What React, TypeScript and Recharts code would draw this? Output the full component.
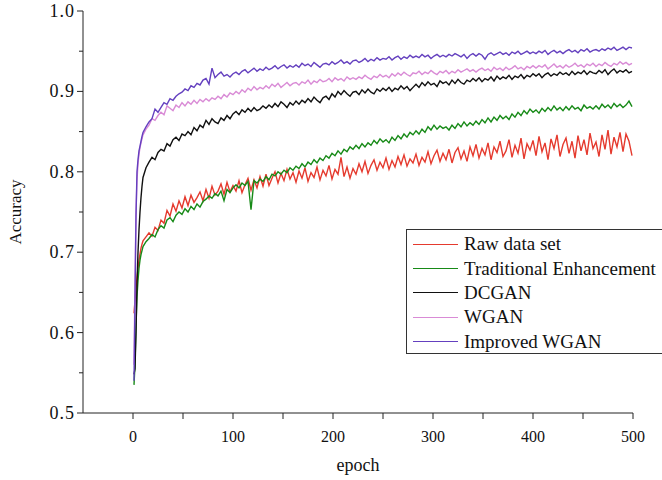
import { LineChart, Line, XAxis, YAxis, Legend } from "recharts"

const FONT = '"Liberation Serif", "Times New Roman", serif'

// epoch positions of the sampled points
const epochs = [
  1, 2, 3, 4, 5, 6, 7, 8, 9, 10,
  13, 16, 19, 22, 25, 28, 31, 34, 37, 40,
  43, 46, 49, 52, 55, 58, 61, 64, 67, 70,
  73, 76, 79, 82, 85, 88, 91, 94, 97, 100,
  103, 106, 109, 112, 115, 118, 121, 124, 127, 130,
  133, 136, 139, 142, 145, 148, 151, 154, 157, 160,
  163, 166, 169, 172, 175, 178, 181, 184, 187, 190,
  193, 196, 199, 202, 205, 208, 211, 214, 217, 220,
  223, 226, 229, 232, 235, 238, 241, 244, 247, 250,
  253, 256, 259, 262, 265, 268, 271, 274, 277, 280,
  283, 286, 289, 292, 295, 298, 301, 304, 307, 310,
  313, 316, 319, 322, 325, 328, 331, 334, 337, 340,
  343, 346, 349, 352, 355, 358, 361, 364, 367, 370,
  373, 376, 379, 382, 385, 388, 391, 394, 397, 400,
  403, 406, 409, 412, 415, 418, 421, 424, 427, 430,
  433, 436, 439, 442, 445, 448, 451, 454, 457, 460,
  463, 466, 469, 472, 475, 478, 481, 484, 487, 490,
  493, 496, 499,
]

const rawData = [
  0.624, 0.640, 0.655, 0.668, 0.680, 0.690, 0.698, 0.705, 0.710, 0.714,
  0.719, 0.724, 0.720, 0.731, 0.727, 0.740, 0.736, 0.752, 0.745, 0.760,
  0.751, 0.764, 0.755, 0.769, 0.758, 0.771, 0.762, 0.768, 0.775, 0.764,
  0.778, 0.767, 0.782, 0.771, 0.776, 0.785, 0.772, 0.787, 0.775, 0.783,
  0.776, 0.789, 0.774, 0.784, 0.792, 0.777, 0.790, 0.780, 0.794, 0.782,
  0.797, 0.783, 0.792, 0.800, 0.786, 0.798, 0.789, 0.803, 0.791, 0.799,
  0.787, 0.801, 0.792, 0.805, 0.788, 0.799, 0.793, 0.806, 0.790, 0.802,
  0.795, 0.808, 0.791, 0.803, 0.797, 0.818, 0.794, 0.806, 0.792, 0.804,
  0.797, 0.810, 0.800, 0.813, 0.798, 0.808, 0.815, 0.802, 0.812, 0.805,
  0.817, 0.803, 0.814, 0.806, 0.819, 0.809, 0.821, 0.807, 0.816, 0.811,
  0.822, 0.808, 0.818, 0.812, 0.825, 0.810, 0.820, 0.827, 0.813, 0.823,
  0.815, 0.828, 0.811, 0.824, 0.830, 0.816, 0.826, 0.813, 0.831, 0.820,
  0.834, 0.817, 0.829, 0.821, 0.836, 0.815, 0.831, 0.824, 0.838, 0.819,
  0.826, 0.840, 0.818, 0.833, 0.823, 0.842, 0.816, 0.835, 0.827, 0.839,
  0.820, 0.844, 0.825, 0.836, 0.815, 0.841, 0.829, 0.846, 0.819, 0.834,
  0.842, 0.823, 0.838, 0.817, 0.845, 0.826, 0.840, 0.821, 0.848, 0.829,
  0.837, 0.819, 0.846, 0.828, 0.852, 0.822, 0.843, 0.831, 0.849, 0.825,
  0.847, 0.838, 0.820,
]

const tradData = [
  0.535, 0.560, 0.610, 0.645, 0.665, 0.680, 0.690, 0.697, 0.702, 0.707,
  0.713, 0.717, 0.722, 0.719, 0.728, 0.733, 0.730, 0.740, 0.743, 0.738,
  0.746, 0.750, 0.747, 0.754, 0.750, 0.757, 0.753, 0.760, 0.756, 0.763,
  0.766, 0.770, 0.767, 0.773, 0.770, 0.776, 0.764, 0.778, 0.774, 0.780,
  0.784, 0.780, 0.786, 0.783, 0.788, 0.753, 0.789, 0.786, 0.791, 0.788,
  0.794, 0.790, 0.797, 0.795, 0.800, 0.797, 0.802, 0.799, 0.805, 0.802,
  0.807, 0.804, 0.810, 0.806, 0.812, 0.809, 0.815, 0.811, 0.817, 0.814,
  0.820, 0.817, 0.823, 0.820, 0.826, 0.822, 0.828, 0.825, 0.831, 0.828,
  0.833, 0.829, 0.835, 0.831, 0.836, 0.833, 0.839, 0.835, 0.841, 0.837,
  0.840, 0.836, 0.843, 0.839, 0.845, 0.841, 0.847, 0.843, 0.849, 0.846,
  0.851, 0.847, 0.853, 0.849, 0.856, 0.852, 0.858, 0.853, 0.857, 0.854,
  0.856, 0.852, 0.858, 0.854, 0.860, 0.856, 0.862, 0.857, 0.861, 0.858,
  0.863, 0.859, 0.865, 0.861, 0.867, 0.862, 0.868, 0.864, 0.870, 0.866,
  0.869, 0.865, 0.872, 0.868, 0.874, 0.870, 0.876, 0.872, 0.878, 0.874,
  0.877, 0.873, 0.879, 0.875, 0.880, 0.876, 0.882, 0.877, 0.880, 0.876,
  0.881, 0.877, 0.882, 0.878, 0.880, 0.876, 0.883, 0.879, 0.881, 0.878,
  0.882, 0.878, 0.884, 0.880, 0.883, 0.879, 0.885, 0.881, 0.884, 0.880,
  0.883, 0.888, 0.881,
]

const dcganData = [
  0.548, 0.555, 0.600, 0.660, 0.700, 0.728, 0.750, 0.768, 0.782, 0.793,
  0.805, 0.812, 0.818, 0.815, 0.824, 0.828, 0.826, 0.835, 0.832, 0.840,
  0.843, 0.839, 0.847, 0.845, 0.850, 0.846, 0.855, 0.851, 0.858, 0.855,
  0.864, 0.859, 0.866, 0.862, 0.860, 0.867, 0.864, 0.870, 0.866, 0.872,
  0.875, 0.871, 0.877, 0.874, 0.879, 0.875, 0.880, 0.876, 0.878, 0.882,
  0.879, 0.883, 0.880, 0.885, 0.881, 0.887, 0.884, 0.880, 0.886, 0.883,
  0.888, 0.884, 0.889, 0.886, 0.891, 0.887, 0.893, 0.889, 0.886, 0.892,
  0.894, 0.890, 0.897, 0.893, 0.900, 0.896, 0.901, 0.897, 0.894, 0.899,
  0.900, 0.896, 0.902, 0.898, 0.903, 0.899, 0.897, 0.903, 0.900, 0.904,
  0.901, 0.905, 0.900, 0.904, 0.902, 0.907, 0.903, 0.906, 0.901, 0.905,
  0.909, 0.905, 0.911, 0.907, 0.912, 0.908, 0.910, 0.906, 0.913, 0.910,
  0.912, 0.908, 0.914, 0.910, 0.915, 0.911, 0.909, 0.914, 0.912, 0.916,
  0.913, 0.917, 0.912, 0.916, 0.914, 0.918, 0.913, 0.919, 0.915, 0.918,
  0.916, 0.920, 0.915, 0.919, 0.917, 0.921, 0.916, 0.920, 0.918, 0.922,
  0.919, 0.922, 0.917, 0.921, 0.923, 0.919, 0.922, 0.920, 0.924, 0.921,
  0.923, 0.920, 0.925, 0.921, 0.924, 0.922, 0.926, 0.921, 0.925, 0.923,
  0.922, 0.926, 0.923, 0.927, 0.921, 0.925, 0.928, 0.923, 0.926, 0.924,
  0.927, 0.923, 0.925,
]

const wganData = [
  0.560, 0.665, 0.750, 0.790, 0.810, 0.822, 0.830, 0.836, 0.841, 0.846,
  0.853, 0.858, 0.866, 0.864, 0.870, 0.874, 0.871, 0.882, 0.879, 0.876,
  0.883, 0.880, 0.886, 0.882, 0.887, 0.884, 0.889, 0.885, 0.890, 0.887,
  0.891, 0.888, 0.892, 0.890, 0.894, 0.891, 0.896, 0.893, 0.898, 0.896,
  0.900, 0.897, 0.902, 0.899, 0.904, 0.901, 0.906, 0.902, 0.905, 0.903,
  0.907, 0.904, 0.909, 0.906, 0.910, 0.905, 0.908, 0.911, 0.907, 0.910,
  0.911, 0.908, 0.912, 0.910, 0.914, 0.909, 0.913, 0.911, 0.915, 0.912,
  0.913, 0.916, 0.912, 0.917, 0.914, 0.916, 0.913, 0.918, 0.915, 0.917,
  0.915, 0.918, 0.916, 0.920, 0.917, 0.915, 0.919, 0.917, 0.921, 0.918,
  0.920, 0.917, 0.922, 0.919, 0.923, 0.920, 0.924, 0.921, 0.919, 0.923,
  0.922, 0.925, 0.921, 0.924, 0.922, 0.926, 0.923, 0.921, 0.925, 0.923,
  0.926, 0.922, 0.925, 0.923, 0.927, 0.924, 0.926, 0.928, 0.925, 0.927,
  0.924, 0.927, 0.929, 0.926, 0.928, 0.925, 0.930, 0.927, 0.929, 0.926,
  0.930, 0.927, 0.929, 0.932, 0.928, 0.930, 0.927, 0.931, 0.929, 0.932,
  0.929, 0.932, 0.930, 0.933, 0.928, 0.931, 0.934, 0.930, 0.932, 0.929,
  0.933, 0.930, 0.932, 0.935, 0.931, 0.933, 0.930, 0.934, 0.932, 0.935,
  0.931, 0.934, 0.932, 0.936, 0.933, 0.931, 0.935, 0.933, 0.937, 0.934,
  0.936, 0.933, 0.935,
]

const improvedData = [
  0.540, 0.640, 0.745, 0.800, 0.815, 0.826, 0.832, 0.838, 0.844, 0.849,
  0.856, 0.862, 0.866, 0.878, 0.874, 0.880, 0.886, 0.884, 0.891, 0.889,
  0.894, 0.897, 0.899, 0.903, 0.901, 0.907, 0.905, 0.910, 0.908, 0.914,
  0.916, 0.909, 0.929, 0.917, 0.921, 0.924, 0.919, 0.921, 0.918, 0.922,
  0.924, 0.921, 0.925, 0.927, 0.923, 0.926, 0.929, 0.925, 0.928, 0.926,
  0.930, 0.927, 0.929, 0.932, 0.928, 0.931, 0.933, 0.929, 0.932, 0.930,
  0.933, 0.930, 0.935, 0.932, 0.934, 0.931, 0.936, 0.933, 0.930, 0.934,
  0.935, 0.933, 0.937, 0.934, 0.936, 0.939, 0.935, 0.937, 0.934, 0.938,
  0.939, 0.936, 0.938, 0.941, 0.937, 0.940, 0.938, 0.942, 0.939, 0.941,
  0.940, 0.943, 0.939, 0.942, 0.944, 0.940, 0.943, 0.941, 0.945, 0.942,
  0.944, 0.942, 0.946, 0.943, 0.945, 0.941, 0.944, 0.946, 0.943, 0.945,
  0.943, 0.946, 0.944, 0.947, 0.945, 0.943, 0.946, 0.941, 0.945, 0.947,
  0.944, 0.947, 0.945, 0.940, 0.946, 0.948, 0.945, 0.947, 0.949, 0.946,
  0.948, 0.945, 0.949, 0.947, 0.950, 0.946, 0.948, 0.950, 0.947, 0.949,
  0.947, 0.950, 0.948, 0.951, 0.946, 0.949, 0.951, 0.948, 0.950, 0.947,
  0.950, 0.952, 0.949, 0.951, 0.948, 0.952, 0.950, 0.953, 0.949, 0.951,
  0.952, 0.950, 0.953, 0.951, 0.954, 0.952, 0.955, 0.951, 0.953, 0.955,
  0.952, 0.955, 0.954,
]

const xTicks = [0, 50, 100, 150, 200, 250, 300, 350, 400, 450, 500]
const yTicks = [0.5, 0.55, 0.6, 0.65, 0.7, 0.75, 0.8, 0.85, 0.9, 0.95, 1.0]

const series = [
  { key: "raw", name: "Raw data set", color: "#e53a2e" },
  { key: "trad", name: "Traditional Enhancement", color: "#178a17" },
  { key: "dcgan", name: "DCGAN", color: "#111111" },
  { key: "wgan", name: "WGAN", color: "#d98bd6" },
  { key: "improved", name: "Improved WGAN", color: "#6440bf" },
]

const data = epochs.map((epoch, i) => ({
  epoch,
  raw: rawData[i],
  trad: tradData[i],
  dcgan: dcganData[i],
  wgan: wganData[i],
  improved: improvedData[i],
}))

function XTick({ x, y, payload }: any) {
  const major = payload.value % 100 === 0
  return (
    <g>
      <line x1={x} y1={y} x2={x} y2={y + 6} stroke="#222" />
      {major && (
        <text x={x} y={y + 29} textAnchor="middle" fontSize={16} fontFamily={FONT} fill="#111">
          {payload.value}
        </text>
      )}
    </g>
  )
}

function YTick({ x, y, payload }: any) {
  const v = payload.value
  const major = Math.round(v * 100) % 10 === 0
  return (
    <g>
      <line x1={x} y1={y} x2={x - (major ? 6 : 4)} y2={y} stroke="#222" />
      {major && (
        <text x={x - 8} y={y + 6} textAnchor="end" fontSize={18} letterSpacing={1} fontFamily={FONT} fill="#111">
          {v.toFixed(1)}
        </text>
      )}
    </g>
  )
}

function LegendBox() {
  return (
    <div
      style={{
        width: 256,
        height: 125,
        boxSizing: "border-box",
        border: "1px solid #333",
        borderRight: "none",
        background: "#fff",
        paddingTop: 2,
        fontFamily: FONT,
        fontSize: 19,
        color: "#111",
      }}
    >
      {series.map((s) => (
        <div key={s.key} style={{ display: "flex", alignItems: "center", height: 24.4 }}>
          <span style={{ width: 45, height: 0, borderTop: `1.5px solid ${s.color}`, marginLeft: 6, marginRight: 6 }} />
          <span style={{ whiteSpace: "nowrap" }}>{s.name}</span>
        </div>
      ))}
    </div>
  )
}

export default function App() {
  return (
    <div style={{ position: "absolute", left: 0, top: 0, background: "#fff" }}>
      <LineChart width={662} height={480} data={data} margin={{ top: 11, right: 29, bottom: 0, left: 0 }}>
        <XAxis
          dataKey="epoch"
          type="number"
          domain={[-50, 500]}
          ticks={xTicks}
          interval={0}
          tick={<XTick />}
          tickSize={0}
          tickMargin={0}
          tickLine={false}
          axisLine={{ stroke: "#222" }}
          height={67}
          label={{
            content: () => (
              <text x={358} y={471} textAnchor="middle" fontSize={18} fontFamily={FONT} fill="#111">
                epoch
              </text>
            ),
          }}
        />
        <YAxis
          type="number"
          domain={[0.5, 1]}
          ticks={yTicks}
          interval={0}
          tick={<YTick />}
          tickSize={0}
          tickMargin={0}
          tickLine={false}
          axisLine={{ stroke: "#222" }}
          width={83}
          label={{
            content: () => (
              <text
                x={17}
                y={212}
                transform="rotate(-90, 17, 212)"
                textAnchor="middle"
                dominantBaseline="middle"
                fontSize={17}
                fontFamily={FONT}
                fill="#111"
              >
                Accuracy
              </text>
            ),
          }}
        />
        {series.map((s) => (
          <Line
            key={s.key}
            type="linear"
            dataKey={s.key}
            name={s.name}
            stroke={s.color}
            strokeWidth={1.4}
            dot={false}
            isAnimationActive={false}
          />
        ))}
        <Legend
          layout="vertical"
          verticalAlign="middle"
          align="center"
          content={() => <LegendBox />}
          wrapperStyle={{ left: 406, top: 229, width: 256 }}
        />
      </LineChart>
    </div>
  )
}
